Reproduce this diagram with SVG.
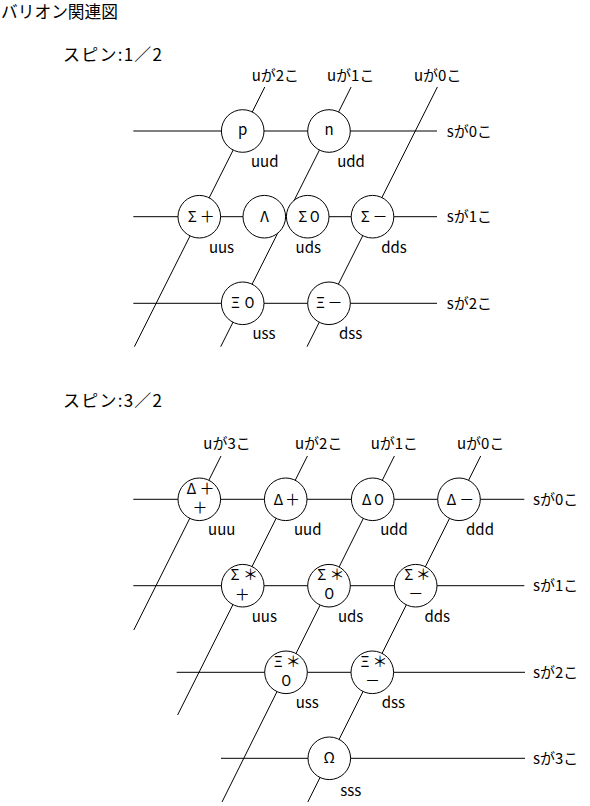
<svg xmlns="http://www.w3.org/2000/svg" width="590" height="806" viewBox="0 0 590 806">
<style>
text{font-family:"Noto Sans CJK JP","Liberation Sans",sans-serif;fill:#000}
.title{font-size:17px}
.lbl{font-size:15px}
.sym{font-size:15px;text-anchor:middle}
.q{font-size:15px;text-anchor:middle}
.ln{stroke:#000;stroke-width:1;fill:none}
circle{fill:#fff;stroke:#000;stroke-width:1}
</style>
<rect width="590" height="806" fill="#fff"/>
<text class="title" x="1" y="17.5" textLength="117" lengthAdjust="spacingAndGlyphs">バリオン関連図</text>
<text class="title" x="63" y="61" textLength="99" lengthAdjust="spacing">スピン:1／2</text>
<text class="title" x="63" y="407" textLength="99" lengthAdjust="spacing">スピン:3／2</text>

<g id="connectors">
<line class="ln" x1="133.3" y1="131" x2="437" y2="131"/>
<line class="ln" x1="133.3" y1="216.7" x2="437" y2="216.7"/>
<line class="ln" x1="133.3" y1="303.3" x2="437" y2="303.3"/>
<line class="ln" x1="264.8" y1="87" x2="134.4" y2="346.7"/>
<line class="ln" x1="351.1" y1="87" x2="220.7" y2="346.7"/>
<line class="ln" x1="437.4" y1="87" x2="307" y2="346.7"/>

<line class="ln" x1="133.3" y1="499.3" x2="524.3" y2="499.3"/>
<line class="ln" x1="133.3" y1="585.7" x2="524.3" y2="585.7"/>
<line class="ln" x1="176.7" y1="672.3" x2="525" y2="672.3"/>
<line class="ln" x1="221" y1="758.3" x2="525" y2="758.3"/>
<line class="ln" x1="221" y1="456" x2="133.8" y2="630"/>
<line class="ln" x1="307.4" y1="456" x2="177.6" y2="715"/>
<line class="ln" x1="394.4" y1="456" x2="222" y2="802"/>
<line class="ln" x1="480.7" y1="456" x2="307.8" y2="802"/>
</g>

<g id="axis-labels">
<text class="lbl" x="251.7" y="81">uが2こ</text>
<text class="lbl" x="327" y="81">uが1こ</text>
<text class="lbl" x="414" y="81">uが0こ</text>
<text class="lbl" x="446.7" y="136.5">sが0こ</text>
<text class="lbl" x="446.7" y="222">sが1こ</text>
<text class="lbl" x="446.7" y="308.8">sが2こ</text>

<text class="lbl" x="203.3" y="449">uが3こ</text>
<text class="lbl" x="295" y="449">uが2こ</text>
<text class="lbl" x="370.7" y="449">uが1こ</text>
<text class="lbl" x="457" y="449">uが0こ</text>
<text class="lbl" x="533" y="504.8">sが0こ</text>
<text class="lbl" x="533" y="591.2">sが1こ</text>
<text class="lbl" x="533" y="677.8">sが2こ</text>
<text class="lbl" x="533" y="763.8">sが3こ</text>
</g>

<g id="node-p">
<circle cx="242.7" cy="131" r="21.3"/>
<text class="sym" x="242.7" y="134.5">p</text>
<text class="q" x="264.7" y="166.7">uud</text>
</g>
<g id="node-n">
<circle cx="329" cy="131" r="21.3"/>
<text class="sym" x="329" y="135">n</text>
<text class="q" x="351" y="166.7">udd</text>
</g>
<g id="node-sigma-plus">
<circle cx="199.3" cy="216.7" r="21.3"/>
<text class="sym" x="192.3 207.3" y="221.5">Σ＋</text>
<text class="q" x="221.5" y="252.5">uus</text>
</g>
<g id="node-lambda">
<circle cx="264.3" cy="216.7" r="21.3"/>
<text class="sym" x="264.6" y="221.5">Λ</text>
</g>
<g id="node-sigma-zero">
<circle cx="307.7" cy="216.7" r="21.3"/>
<text class="sym" x="302.7 314.7" y="221.5">Σ０</text>
<text class="q" x="308.3" y="252.5">uds</text>
</g>
<g id="node-sigma-minus">
<circle cx="372.5" cy="216.7" r="21.3"/>
<text class="sym" x="365.3 380" y="221.5">Σ－</text>
<text class="q" x="394" y="252.5">dds</text>
</g>
<g id="node-xi-zero">
<circle cx="242.7" cy="303.3" r="21.3"/>
<text class="sym" x="235.5 249.5" y="308.3">Ξ０</text>
<text class="q" x="264" y="339">uss</text>
</g>
<g id="node-xi-minus">
<circle cx="329" cy="303.3" r="21.3"/>
<text class="sym" x="320.5 335" y="308.3">Ξ－</text>
<text class="q" x="350.7" y="339">dss</text>
</g>

<g id="node-delta-plusplus">
<circle cx="199.3" cy="499.3" r="21.3"/>
<text class="sym" x="191.3 207" y="494">Δ＋</text>
<text class="sym" x="200" y="513">＋</text>
<text class="q" x="221.7" y="535">uuu</text>
</g>
<g id="node-delta-plus">
<circle cx="285.7" cy="499.3" r="21.3"/>
<text class="sym" x="278.5 292.5" y="504.5">Δ＋</text>
<text class="q" x="307.7" y="535">uud</text>
</g>
<g id="node-delta-zero">
<circle cx="372.7" cy="499.3" r="21.3"/>
<text class="sym" x="366.7 379" y="504.5">Δ０</text>
<text class="q" x="394" y="535">udd</text>
</g>
<g id="node-delta-minus">
<circle cx="459" cy="499.3" r="21.3"/>
<text class="sym" x="451.3 466.7" y="504.5">Δ－</text>
<text class="q" x="480" y="535">ddd</text>
</g>
<g id="node-sigmastar-plus">
<circle cx="242.7" cy="585.7" r="21.3"/>
<text class="sym" x="235 250.5" y="580">Σ＊</text>
<text class="sym" x="242.2" y="599.5">＋</text>
<text class="q" x="264.3" y="622.3">uus</text>
</g>
<g id="node-sigmastar-zero">
<circle cx="329" cy="585.7" r="21.3"/>
<text class="sym" x="321.8 337" y="580">Σ＊</text>
<text class="sym" x="329.3" y="599">０</text>
<text class="q" x="350.7" y="622.3">uds</text>
</g>
<g id="node-sigmastar-minus">
<circle cx="415.7" cy="585.7" r="21.3"/>
<text class="sym" x="408.8 423.3" y="580">Σ＊</text>
<text class="sym" x="415.8" y="599">－</text>
<text class="q" x="437.2" y="622.3">dds</text>
</g>
<g id="node-xistar-zero">
<circle cx="286" cy="672.3" r="21.3"/>
<text class="sym" x="278.3 293.3" y="666.5">Ξ＊</text>
<text class="sym" x="286.2" y="686">０</text>
<text class="q" x="307.3" y="708.3">uss</text>
</g>
<g id="node-xistar-minus">
<circle cx="372.3" cy="672.3" r="21.3"/>
<text class="sym" x="365 380" y="666.5">Ξ＊</text>
<text class="sym" x="372.5" y="685.5">－</text>
<text class="q" x="393.3" y="708.3">dss</text>
</g>
<g id="node-omega">
<circle cx="329.3" cy="758.3" r="21.3"/>
<text class="sym" x="329.3" y="763">Ω</text>
<text class="q" x="350.7" y="795.7">sss</text>
</g>
</svg>
